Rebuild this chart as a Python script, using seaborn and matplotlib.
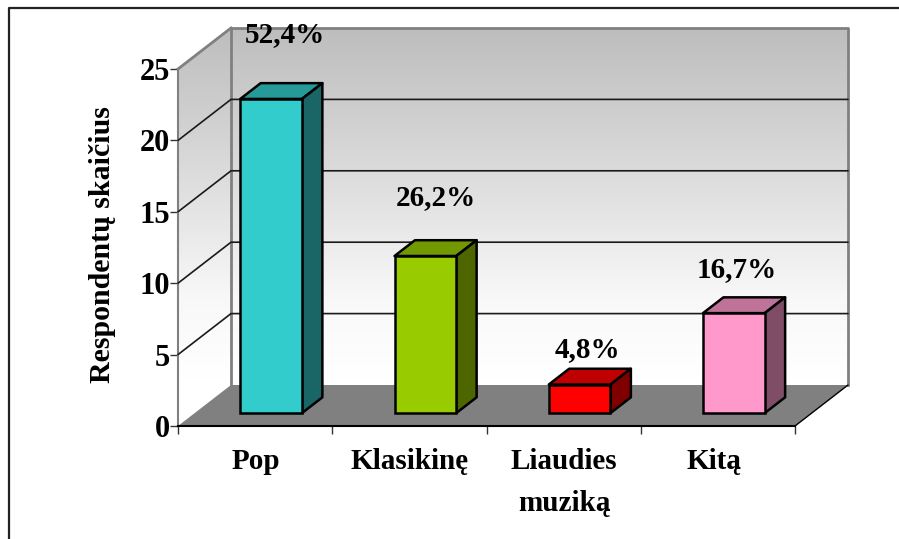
import numpy as np
import matplotlib
matplotlib.use("Agg")
import matplotlib.pyplot as plt
from matplotlib.colors import LinearSegmentedColormap
from matplotlib.lines import Line2D
from matplotlib.patches import Polygon, Rectangle
import pandas as pd
import seaborn as sns

# Values
categories = ["Pop", "Klasikinę", "Liaudies\nmuziką", "Kitą"]
respondents = [22, 11, 2, 7]
percent_labels = ["52,4%", "26,2%", "4,8%", "16,7%"]
front_colors = ["#33CCCC", "#99CC00", "#FF0000", "#FF99CC"]
top_colors = ["#269999", "#739900", "#BF0000", "#BF7399"]
side_colors = ["#1A6666", "#4D6600", "#800000", "#804D66"]
y_ticks = [0, 5, 10, 15, 20, 25]

W, H = 899, 539
sns.set_theme(style="white")
plt.rcParams["font.family"] = ["Liberation Serif", "DejaVu Serif"]
plt.rcParams["font.weight"] = "bold"

fig = plt.figure(figsize=(W / 100, H / 100), dpi=100)
# front plane of the 3D box: x 178-795 px, y 426-69 px
ax = fig.add_axes([178 / W, 1 - 426 / H, (795 - 178) / W, (426 - 69) / H])

df = pd.DataFrame({"cat": categories, "n": respondents})
BAR_WIDTH = 0.40
# depth of the whole box and of the bars, in data units
DX, DY = 53 / 154.25, 41 / 14.28
bar_shift_x = 16 / 154.25
bar_depth = 0.315
bar_thick = 0.385

sns.barplot(data=df, x="cat", y="n", hue="cat", palette=front_colors, width=BAR_WIDTH,
            saturation=1, legend=False, ax=ax, edgecolor="black", linewidth=1.8, zorder=5)

ax.set_xlim(-0.5, 3.5)
ax.set_ylim(0, 25)
x0, x1 = -0.5, 3.5


def poly(pts, **kw):
    p = Polygon(pts, closed=True, clip_on=False, **kw)
    ax.add_patch(p)
    return p


# walls with vertical gradient
cmap = LinearSegmentedColormap.from_list("wall", [(0, "#FFFFFF"), (0.12, "#FFFFFF"), (0.32, "#F8F8F8"),
                                                  (0.52, "#E6E6E6"), (0.72, "#D4D4D4"), (0.92, "#C4C4C4"),
                                                  (1, "#BDBDBD")])
grad = np.linspace(0, 1, 256).reshape(-1, 1)
back = [(x0 + DX, DY), (x1 + DX, DY), (x1 + DX, 25 + DY), (x0 + DX, 25 + DY)]
left = [(x0, 0), (x0 + DX, DY), (x0 + DX, 25 + DY), (x0, 25)]
for pts in (back, left):
    clip = poly(pts, facecolor="none", edgecolor="none", zorder=1)
    im = ax.imshow(grad, origin="lower", cmap=cmap, aspect="auto", zorder=1,
                   extent=(x0, x1 + DX, 0, 25 + DY))
    im.set_clip_box(fig.bbox)
    im.set_clip_path(clip)
ax.set_xlim(x0, x1)
ax.set_ylim(0, 25)

# floor
poly([(x0, 0), (x1, 0), (x1 + DX, DY), (x0 + DX, DY)], facecolor="#808080", edgecolor="none", zorder=2)

# wall outlines
outline = dict(color="#808080", lw=2, clip_on=False, zorder=3, solid_capstyle="projecting")
ax.add_line(Line2D([x0 + DX, x1 + DX, x1 + DX], [25 + DY, 25 + DY, DY], **outline))
ax.add_line(Line2D([x0 + DX, x0 + DX], [DY, 25 + DY], **outline))
ax.add_line(Line2D([x0, x0 + DX], [25, 25 + DY], **outline))
ax.add_line(Line2D([x1, x1 + DX], [0, DY], color="black", lw=1, clip_on=False, zorder=3))
ax.add_line(Line2D([x0, x0], [0, 25], color="#808080", lw=1.5, clip_on=False, zorder=3))

# gridlines on both walls
for t in y_ticks[1:-1]:
    ax.add_line(Line2D([x0, x0 + DX, x1 + DX], [t, t + DY, t + DY], color="#1A1A1A", lw=1.2,
                       clip_on=False, zorder=3))

# turn the barplot rectangles into boxes
rects = [p for p in ax.patches if isinstance(p, Rectangle) and p.get_height() > 0 and p.get_zorder() == 5]
for i, r in enumerate(rects):
    r.set_x(r.get_x() + bar_shift_x)
    r.set_y(bar_depth * DY)
    r.set_clip_on(False)
    xa, xb = r.get_x(), r.get_x() + r.get_width()
    ya, yb = r.get_y(), r.get_y() + r.get_height()
    ox, oy = bar_thick * DX, bar_thick * DY
    edge = dict(edgecolor="black", linewidth=1.8, joinstyle="round", zorder=4)
    poly([(xa, yb), (xb, yb), (xb + ox, yb + oy), (xa + ox, yb + oy)], facecolor=top_colors[i], **edge)
    poly([(xb, ya), (xb + ox, ya + oy), (xb + ox, yb + oy), (xb, yb)], facecolor=side_colors[i], **edge)

# percent labels above the bars
label_py = [35, 198, 350, 270]
label_cx = [285, 436, 587, 737]
for lab, cx, py in zip(percent_labels, label_cx, label_py):
    fig.text(cx / W, 1 - py / H, lab, ha="center", va="center", fontsize=21, fontweight="bold", color="black", zorder=10)

# axes
sns.despine(ax=ax, top=True, right=True, left=True, bottom=False)
ax.spines["bottom"].set_color("black")
ax.spines["bottom"].set_linewidth(1.5)
ax.spines["bottom"].set_zorder(6)
ax.set_xticks(np.arange(-0.5, 4, 1), minor=False)
ax.set_xticklabels([])
ax.tick_params(axis="x", bottom=True, length=6, width=1, color="#333333", direction="out")
ax.set_yticks(y_ticks)
ax.set_yticklabels([str(t) for t in y_ticks], fontsize=22, fontweight="bold", color="black")
ax.tick_params(axis="y", left=True, length=6, width=1, color="#333333", pad=0, direction="out")
ax.set_xlabel("")
ax.set_ylabel("")

for cat, cx in zip(categories, [256, 410, 564, 714]):
    fig.text(cx / W, 1 - 448 / H, cat, ha="center", va="top", fontsize=21, fontweight="bold",
             color="black", linespacing=1.7)
fig.text(103 / W, 1 - 245 / H, "Respondentų skaičius", rotation=90, ha="center", va="center",
         fontsize=21.5, fontweight="bold", color="black")

# chart frame running off the image
fig.add_artist(Line2D([8.5 / W, 8.5 / W, 1], [0, 1 - 7.5 / H, 1 - 7.5 / H], color="#222222", lw=1.6))

fig.savefig("out.png", dpi=100)
